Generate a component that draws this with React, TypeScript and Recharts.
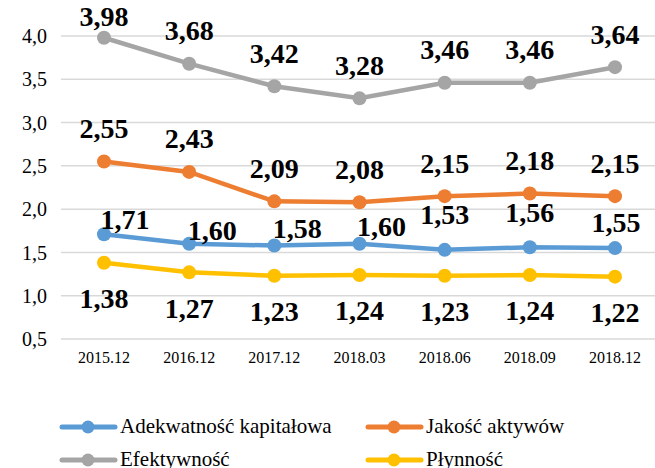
import { LineChart, Line, XAxis, YAxis, CartesianGrid, LabelList } from "recharts";

const CATEGORIES = ["2015.12", "2016.12", "2017.12", "2018.03", "2018.06", "2018.09", "2018.12"];
const ADEKWATNOSC = [1.71, 1.6, 1.58, 1.6, 1.53, 1.56, 1.55];
const JAKOSC = [2.55, 2.43, 2.09, 2.08, 2.15, 2.18, 2.15];
const EFEKTYWNOSC = [3.98, 3.68, 3.42, 3.28, 3.46, 3.46, 3.64];
const PLYNNOSC = [1.38, 1.27, 1.23, 1.24, 1.23, 1.24, 1.22];
const Y_TICKS = [0.5, 1, 1.5, 2, 2.5, 3, 3.5, 4];

// ręcznie przesunięte etykiety serii "Adekwatność" (jak w Excelu)
const ADEQ_SHIFT = [[21, -15], [23, -13], [23, -17], [22, -17], [0, -35], [0, -35], [1, -26]];

const SERIES = [
  { key: "adek", name: "Adekwatność kapitałowa", color: "#5B9BD5", values: ADEKWATNOSC },
  { key: "jak", name: "Jakość aktywów", color: "#ED7D31", values: JAKOSC },
  { key: "efe", name: "Efektywność", color: "#A5A5A5", values: EFEKTYWNOSC },
  { key: "ply", name: "Płynność", color: "#FFC000", values: PLYNNOSC },
];

const data = CATEGORIES.map((c, i) => {
  const row: Record<string, string | number> = { cat: c };
  SERIES.forEach((s) => (row[s.key] = s.values[i]));
  return row;
});

const FONT = "Liberation Serif";
const fmt2 = (v: number) => v.toFixed(2).replace(".", ",");

// eslint-disable-next-line @typescript-eslint/no-explicit-any
const makeLabel = (mode: "above" | "below" | "adeq") => (props: any) => {
  const { x, y, value, index } = props;
  let lx = x;
  let ly = y;
  if (mode === "above") ly = Math.max(y - 33, 16);
  else if (mode === "below") ly = y + 36;
  else {
    lx = x + ADEQ_SHIFT[index][0];
    ly = y + ADEQ_SHIFT[index][1];
  }
  return (
    <text x={lx} y={ly} textAnchor="middle" dominantBaseline="central"
      fontFamily={FONT} fontSize={28} fontWeight={700} fill="#000">
      {fmt2(value)}
    </text>
  );
};

const LABEL_MODE: Record<string, "above" | "below" | "adeq"> = { adek: "adeq", jak: "above", efe: "above", ply: "below" };

function LegendItem({ name, color }: { name: string; color: string }) {
  return (
    <div style={{ display: "flex", alignItems: "center", height: 33 }}>
      <svg width={61} height={16} style={{ flex: "none" }}>
        <line x1={3} y1={8} x2={56} y2={8} stroke={color} strokeWidth={5} strokeLinecap="round" />
        <circle cx={29} cy={8} r={6.5} fill={color} />
      </svg>
      <span style={{ fontFamily: FONT, fontSize: 21, color: "#000", whiteSpace: "nowrap" }}>{name}</span>
    </div>
  );
}

export default function App() {
  return (
    <div style={{ position: "absolute", left: 0, top: 0, width: 655, height: 468, overflow: "hidden", background: "#fff" }}>
      <LineChart width={660} height={468} data={data} margin={{ top: 36, right: 2, left: 11, bottom: 99 }}>
        <CartesianGrid vertical={false} stroke="#D9D9D9" strokeWidth={1.5} />
        <XAxis dataKey="cat" axisLine={false} tickLine={false} height={30} interval={0}
          padding={{ left: 43, right: 43 }}
          tick={{ fontFamily: FONT, fontSize: 16, fill: "#000" }} dy={5} />
        <YAxis domain={[0.5, 4]} ticks={Y_TICKS} axisLine={false} tickLine={false} width={50}
          tickFormatter={(v: number) => v.toFixed(1).replace(".", ",")}
          tick={{ fontFamily: FONT, fontSize: 20, fill: "#000", dx: -6 }} />
        {SERIES.map((s) => (
          <Line key={s.key} dataKey={s.key} name={s.name} stroke={s.color} strokeWidth={4.5}
            dot={{ r: 7, fill: s.color, stroke: "none" }} isAnimationActive={false}>
            <LabelList dataKey={s.key} content={makeLabel(LABEL_MODE[s.key])} />
          </Line>
        ))}
      </LineChart>
      <div style={{ position: "absolute", left: 59, top: 410, display: "grid", gridTemplateColumns: "306px 250px" }}>
        {[SERIES[0], SERIES[1], SERIES[2], SERIES[3]].map((s) => (
          <LegendItem key={s.key} name={s.name} color={s.color} />
        ))}
      </div>
    </div>
  );
}
